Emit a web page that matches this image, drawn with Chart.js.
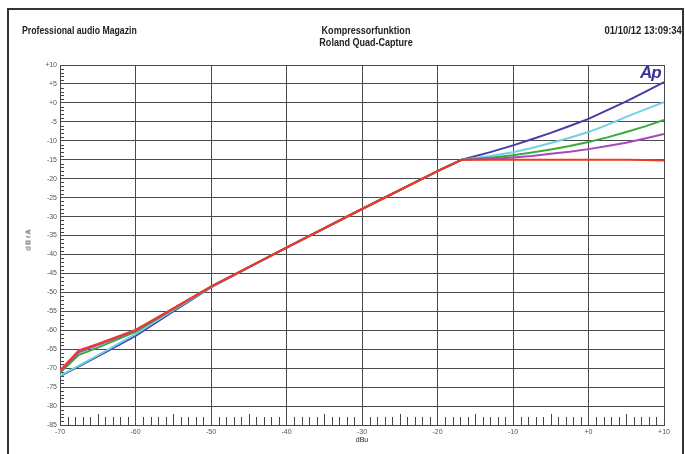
<!DOCTYPE html>
<html>
<head>
<meta charset="utf-8">
<script src="https://cdn.jsdelivr.net/npm/chart.js@4"></script>
<style>
  html, body { margin: 0; padding: 0; background: #fff; }
  #wrap { position: relative; width: 685px; height: 454px; overflow: hidden; }
  #frame { position: absolute; left: 7px; top: 8px; width: 677px; height: 460px;
           border: 2px solid #333; border-bottom: none; box-sizing: border-box; }
  canvas { position: absolute; left: 0; top: 0; }
  .txt { position: absolute; font-family: 'Liberation Sans', Arial, sans-serif;
         font-size: 10.5px; color: #222; white-space: nowrap; }
  .head { font-weight: bold; }
  #ap { position: absolute; left: 640px; top: 63px; font-family: 'Liberation Sans', Arial, sans-serif;
        font-weight: bold; font-style: italic; font-size: 17px; color: #3b2f9a; letter-spacing: -1px; }
</style>
</head>
<body>
<div id="wrap">
  <div id="frame"></div>
  <canvas id="chart" width="685" height="454"></canvas>
  <div class="txt head" style="left:22px; top:24px; transform:scaleX(0.83); transform-origin:left top;">Professional audio Magazin</div>
  <div class="txt head" style="left:366px; top:24px; transform:translateX(-50%) scaleX(0.86); text-align:center; line-height:12px;">Kompressorfunktion<br>Roland Quad-Capture</div>
  <div class="txt head" style="right:3px; top:24px; transform:scaleX(0.9); transform-origin:right top;">01/10/12 13:09:34</div>
  <div class="txt" style="left:28px; top:240px; font-size:7px; transform:translate(-50%,-50%) rotate(-90deg);">d B r A</div>
  <div class="txt" style="left:362px; top:436px; font-size:7px; transform:translateX(-50%);">dBu</div>
  <div id="ap">Ap</div>
</div>
<script>
// input level (dBu) shared by all curves
const INPUT_DBU = [-70, -67.5, -65, -60, -55, -50, -40, -30, -20, -16.8, -13, -10, -7.5, -5, -2.5, 0, 2.5, 5, 7.5, 10];

// output level (dBrA), one array per ratio setting
const OUT_RED    = [-70.6, -65.3, -63.6, -59.9, -54.2, -48.5, -38.2, -28, -18, -15, -15, -15, -15, -15, -15, -15, -15, -15, -15.1, -15.2];
const OUT_PURPLE = [-70.9, -65.8, -63.9, -60.1, -54.3, -48.5, -38.2, -28, -18, -15, -14.8, -14.4, -14, -13.4, -12.9, -12.2, -11.4, -10.5, -9.4, -8.2];
const OUT_GREEN  = [-71.2, -66.5, -64.6, -60.4, -54.4, -48.5, -38.2, -28, -18, -15, -14.5, -13.8, -13.1, -12.3, -11.4, -10.3, -9.1, -7.7, -6.2, -4.5];
const OUT_CYAN   = [-72, -69.3, -66.6, -61, -54.7, -48.6, -38.2, -28, -18, -15, -14, -13, -11.9, -10.6, -9.2, -7.7, -5.8, -3.7, -1.7, 0.2];
const OUT_BLUE   = [-72.1, -69.5, -66.9, -61.5, -55, -48.7, -38.2, -28, -18, -15, -13, -11.2, -9.6, -7.9, -6.1, -4.2, -1.9, 0.4, 2.9, 5.5];

const X_TICKS = [-70, -60, -50, -40, -30, -20, -10, 0, 10];
const Y_TICKS = [10, 5, 0, -5, -10, -15, -20, -25, -30, -35, -40, -45, -50, -55, -60, -65, -70, -75, -80, -85];

const SERIES = [
  { data: OUT_RED, color: '#ee3a1e' },
  { data: OUT_PURPLE, color: '#a846bb' },
  { data: OUT_GREEN, color: '#3aaa3a' },
  { data: OUT_CYAN, color: '#6ed2e2' },
  { data: OUT_BLUE, color: '#4a3aa8' },
];

const fmt = (v) => (v >= 0 ? '+' + v : String(v));

// small inner ticks along left edge and bottom band
const minorTicks = {
  id: 'minorTicks',
  beforeDatasetsDraw(chart) {
    const { ctx, chartArea: a, scales: { x, y } } = chart;
    ctx.save();
    ctx.strokeStyle = '#444';
    ctx.lineWidth = 1;
    ctx.beginPath();
    for (let v = -84; v <= 9; v++) {
      if (v % 5 === 0) continue;
      const py = Math.round(y.getPixelForValue(v)) + 0.5;
      ctx.moveTo(a.left, py);
      ctx.lineTo(a.left + 4, py);
    }
    for (let v = -69; v <= 9; v++) {
      if (v % 10 === 0) continue;
      const px = Math.round(x.getPixelForValue(v)) + 0.5;
      const len = v % 5 === 0 ? 11 : 8;
      ctx.moveTo(px, a.bottom);
      ctx.lineTo(px, a.bottom - len);
    }
    ctx.stroke();
    ctx.restore();
  },
};

new Chart(document.getElementById('chart').getContext('2d'), {
  type: 'line',
  data: {
    datasets: SERIES.map((s) => ({
      data: INPUT_DBU.map((x, i) => ({ x, y: s.data[i] })),
      borderColor: s.color,
      borderWidth: 2,
      pointRadius: 0,
      tension: 0,
      fill: false,
    })),
  },
  options: {
    responsive: false,
    animation: false,
    layout: { padding: { left: 0, top: 65, right: 21, bottom: 0 } },
    plugins: { legend: { display: false }, tooltip: { enabled: false } },
    scales: {
      x: {
        type: 'linear',
        min: -70,
        max: 10,
        afterBuildTicks: (scale) => { scale.ticks = X_TICKS.map((value) => ({ value })); },
        afterFit: (scale) => { scale.height = 29; },
        grid: { color: '#4a4a4a', lineWidth: 1, drawTicks: false },
        border: { color: '#444', width: 1 },
        ticks: {
          callback: fmt,
          maxRotation: 0,
          padding: 3,
          color: '#555',
          font: { family: 'Liberation Sans, Arial', size: 7 },
        },
      },
      y: {
        min: -85,
        max: 10,
        afterBuildTicks: (scale) => { scale.ticks = Y_TICKS.map((value) => ({ value })); },
        afterFit: (scale) => { scale.width = 60; },
        grid: { color: '#4a4a4a', lineWidth: 1, drawTicks: false },
        border: { color: '#444', width: 1 },
        ticks: {
          callback: fmt,
          padding: 3,
          color: '#555',
          font: { family: 'Liberation Sans, Arial', size: 7 },
        },
      },
    },
  },
  plugins: [minorTicks],
});
</script>
</body>
</html>
